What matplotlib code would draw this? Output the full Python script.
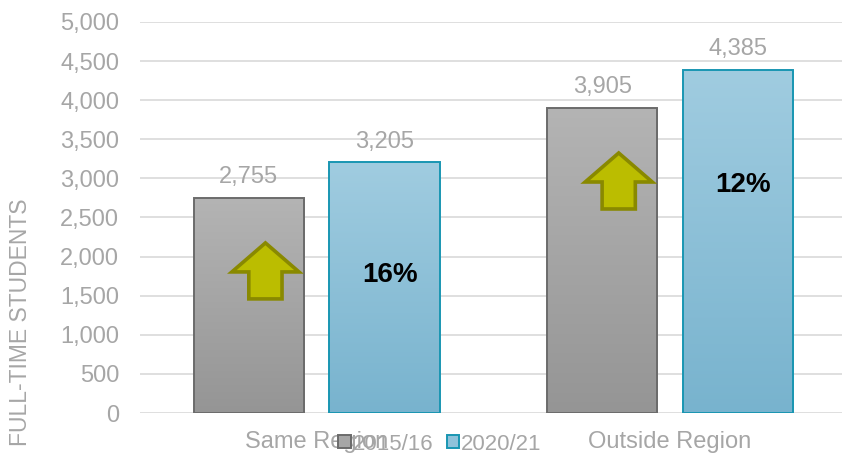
import numpy as np
import matplotlib.pyplot as plt
from matplotlib.patches import Patch, Polygon

plt.rcParams["font.family"] = ["Liberation Sans", "DejaVu Sans"]

regions = ["Same Region", "Outside Region"]
years = ["2015/16", "2020/21"]
students_2015 = [2755, 3905]
students_2020 = [3205, 4385]
yticks = [0, 500, 1000, 1500, 2000, 2500, 3000, 3500, 4000, 4500, 5000]

grey_top, grey_bot, grey_edge = "#b4b4b4", "#959595", "#6b6b6b"
blue_top, blue_bot, blue_edge = "#a0cce0", "#78b3ce", "#1996b2"
label_grey = "#a6a6a6"
fs = 17

fig = plt.figure(figsize=(8.42, 4.54), dpi=100)
ax = fig.add_axes([140 / 842, 41 / 454, 702 / 842, 391 / 454])

x = np.arange(len(regions))
width = 0.312
offset = 0.192


def gradient_bar(xc, h, top, bot, edge):
    bar = ax.bar(xc, h, width, color="none", edgecolor=edge, linewidth=1.4, zorder=3)[0]
    grad = np.linspace(0, 1, 256).reshape(-1, 1)
    cmap = plt.matplotlib.colors.LinearSegmentedColormap.from_list("g", [bot, top])
    im = ax.imshow(grad, cmap=cmap, aspect="auto", origin="lower",
                   extent=[xc - width / 2, xc + width / 2, 0, h], zorder=2)
    im.set_clip_path(bar)
    ax.annotate(f"{h:,}", (xc, h), xytext=(0, 7), textcoords="offset points",
                ha="center", va="bottom", fontsize=fs, color=label_grey)
    return bar


for i in range(len(regions)):
    gradient_bar(x[i] - offset, students_2015[i], grey_top, grey_bot, grey_edge)
    gradient_bar(x[i] + offset, students_2020[i], blue_top, blue_bot, blue_edge)

    # up arrow on the older bar plus growth percentage
    tip = students_2015[i] - 580
    cx = x[i] - offset + 0.047
    hw, sw, head, total = 0.095, 0.047, 371, 716
    pts = [(cx, tip), (cx + hw, tip - head), (cx + sw, tip - head), (cx + sw, tip - total),
           (cx - sw, tip - total), (cx - sw, tip - head), (cx - hw, tip - head)]
    ax.add_patch(Polygon(pts, closed=True, facecolor="#bbbd00", edgecolor="#898900",
                         linewidth=2.6, joinstyle="miter", zorder=4))
    pct = (students_2020[i] - students_2015[i]) / students_2015[i] * 100
    ax.text(x[i] + offset + 0.015, tip - total / 2 - 50, f"{pct:.0f}%",
            ha="center", va="center", fontsize=20, fontweight="bold", color="black", zorder=5)

ax.set_xlim(-0.5, 1.487)
ax.set_ylim(0, 5000)
ax.set_yticks(yticks)
ax.set_yticklabels([f"{v:,}" for v in yticks])
ax.set_xticks(x)
ax.set_xticklabels(regions)
ax.tick_params(length=0, labelsize=fs, labelcolor=label_grey)
ax.tick_params(axis="x", pad=13)
ax.tick_params(axis="y", pad=15)
ax.grid(axis="y", color="#d9d9d9", linewidth=1.2, zorder=0)
ax.set_axisbelow(True)
for s in ax.spines.values():
    s.set_visible(False)

fig.text(21 / 842, 132 / 454, "FULL-TIME STUDENTS", rotation=90, ha="center",
         va="center", fontsize=16.5, color=label_grey)

handles = [Patch(facecolor="#a6a6a6", edgecolor=grey_edge, linewidth=1.4),
           Patch(facecolor="#8fc2da", edgecolor=blue_edge, linewidth=1.4)]
fig.legend(handles, years, loc="center", bbox_to_anchor=(440 / 842, 10 / 454),
           ncol=2, frameon=False, fontsize=16, labelcolor=label_grey,
           handlelength=0.55, handleheight=0.55, handletextpad=0.1, columnspacing=0.6)

fig.savefig("out.png", dpi=100)
